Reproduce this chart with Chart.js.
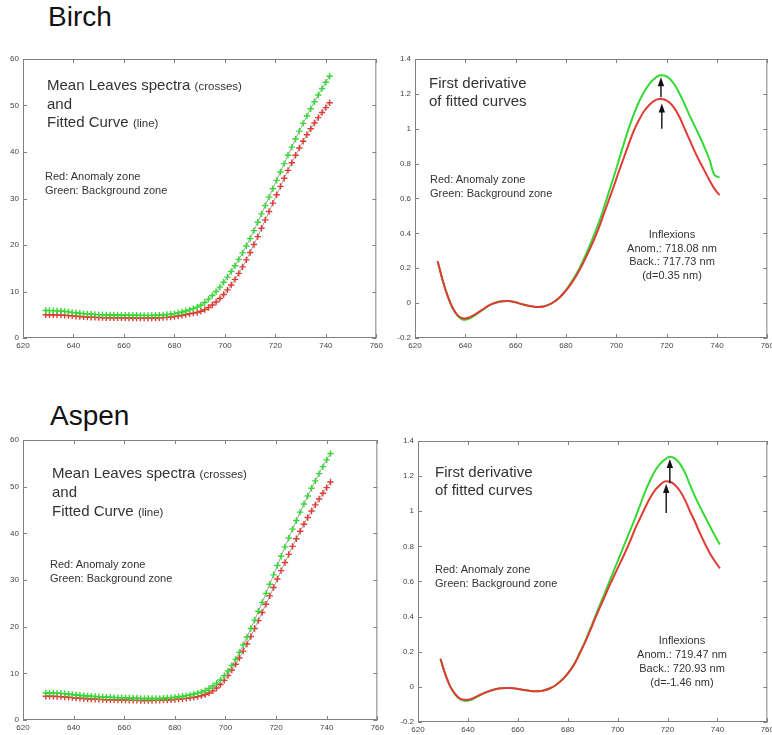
<!DOCTYPE html>
<html>
<head>
<meta charset="utf-8">
<script src="https://cdn.jsdelivr.net/npm/chart.js@4.4.0/dist/chart.umd.min.js"></script>
<style>
  body { margin: 0; width: 772px; height: 735px; overflow: hidden; background: #fff; position: relative;
         font-family: "Liberation Sans", Arial, sans-serif; color: #333; }
  canvas { position: absolute; }
  .note { position: absolute; white-space: nowrap; }
  .big { font-size: 15px; line-height: 18px; }
  .small { font-size: 11px; line-height: 14px; }
  .tiny { font-size: 11.5px; }
  .center { text-align: center; width: 150px; }
  .title { position: absolute; font-size: 28px; line-height: 32px; color: #111; }
</style>
</head>
<body>
<div class="title" style="left:48px; top:1px">Birch</div>
<div class="title" style="left:50px; top:400px">Aspen</div>

<canvas id="birchSpectra" width="386" height="308" style="left:0px; top:45px"></canvas>
<canvas id="birchDeriv" width="392" height="308" style="left:385px; top:45px"></canvas>
<canvas id="aspenSpectra" width="387" height="309" style="left:0px; top:426px"></canvas>
<canvas id="aspenDeriv" width="391" height="310" style="left:386px; top:427px"></canvas>

<!-- Birch notes -->
<div class="note big" style="left:47px; top:76px">Mean Leaves spectra <span class="tiny">(crosses)</span><br>and<br>Fitted Curve <span class="tiny">(line)</span></div>
<div class="note small" style="left:45px; top:169px">Red: Anomaly zone<br>Green: Background zone</div>
<div class="note big" style="left:429px; top:74px">First derivative<br>of fitted curves</div>
<div class="note small" style="left:430px; top:173px; line-height:13.5px">Red: Anomaly zone<br>Green: Background zone</div>
<div class="note small center" style="left:597px; top:228px; line-height:13.7px">Inflexions<br>Anom.: 718.08 nm<br>Back.: 717.73 nm<br>(d=0.35 nm)</div>

<!-- Aspen notes -->
<div class="note big" style="left:52px; top:464px; line-height:18.3px">Mean Leaves spectra <span class="tiny">(crosses)</span><br>and<br>Fitted Curve <span class="tiny">(line)</span></div>
<div class="note small" style="left:50px; top:557px; line-height:14.4px">Red: Anomaly zone<br>Green: Background zone</div>
<div class="note big" style="left:435px; top:463px; line-height:18.3px">First derivative<br>of fitted curves</div>
<div class="note small" style="left:435px; top:562px">Red: Anomaly zone<br>Green: Background zone</div>
<div class="note small center" style="left:607px; top:634px; line-height:13.9px">Inflexions<br>Anom.: 719.47 nm<br>Back.: 720.93 nm<br>(d=-1.46 nm)</div>

<script>
// Wavelengths (nm)
const spectraNm = [629, 630.5, 632, 633.5, 635, 636.5, 638, 639.5, 641, 642.5,
  644, 645.5, 647, 648.5, 650, 651.5, 653, 654.5, 656, 657.5,
  659, 660.5, 662, 663.5, 665, 666.5, 668, 669.5, 671, 672.5,
  674, 675.5, 677, 678.5, 680, 681.5, 683, 684.5, 686, 687.5,
  689, 690.5, 692, 693.5, 695, 696.5, 698, 699.5, 701, 702.5,
  704, 705.5, 707, 708.5, 710, 711.5, 713, 714.5, 716, 717.5,
  719, 720.5, 722, 723.5, 725, 726.5, 728, 729.5, 731, 732.5,
  734, 735.5, 737, 738.5, 740, 741.5];
const derivNm = [629, 631, 633, 635, 637, 639, 641, 643, 645, 647,
  649, 651, 653, 655, 657, 659, 661, 663, 665, 667,
  669, 671, 673, 675, 677, 679, 681, 683, 685, 687,
  689, 691, 693, 695, 697, 699, 701, 703, 705, 707,
  709, 711, 713, 715, 717, 719, 721, 723, 725, 727,
  729, 731, 733, 735, 737, 739, 741];

// Axis ticks
const wavelengthTicks = [620, 640, 660, 680, 700, 720, 740, 760];
const spectraTicks = [0, 10, 20, 30, 40, 50, 60];
const spectraTickLabels = ['0', '10', '20', '30', '40', '50', '60'];
const derivTicks = [-0.2, 0, 0.2, 0.4, 0.6, 0.8, 1, 1.2, 1.4];
const derivTickLabels = ['-0.2', '0', '0.2', '0.4', '0.6', '0.8', '1', '1.2', '1.4'];

// Birch mean spectra (crosses)
const birchBackgroundSpectrum = [5.9, 5.9, 5.88, 5.85, 5.8, 5.72, 5.62, 5.52, 5.42, 5.33,
  5.25, 5.18, 5.12, 5.07, 5.03, 5.0, 4.98, 4.96, 4.95, 4.94,
  4.93, 4.92, 4.9, 4.89, 4.88, 4.87, 4.86, 4.86, 4.87, 4.89,
  4.92, 4.97, 5.04, 5.13, 5.25, 5.4, 5.58, 5.8, 6.05, 6.32,
  6.64, 7.05, 7.65, 8.35, 9.15, 10.0, 10.95, 12.0, 13.1, 14.3,
  15.55, 16.9, 18.3, 19.8, 21.4, 23.1, 24.9, 26.7, 28.5, 30.3,
  32.1, 33.9, 35.7, 37.5, 39.3, 41.05, 42.8, 44.5, 46.15, 47.75,
  49.3, 50.8, 52.25, 53.65, 55.0, 56.3];
const birchAnomalySpectrum = [5.0, 5.0, 4.98, 4.96, 4.93, 4.88, 4.82, 4.75, 4.68, 4.62,
  4.56, 4.51, 4.47, 4.44, 4.41, 4.39, 4.37, 4.36, 4.35, 4.34,
  4.33, 4.32, 4.31, 4.3, 4.29, 4.28, 4.28, 4.28, 4.29, 4.31,
  4.34, 4.38, 4.44, 4.52, 4.62, 4.74, 4.88, 5.04, 5.2, 5.35,
  5.5, 5.75, 6.1, 6.55, 7.1, 7.75, 8.5, 9.35, 10.35, 11.4,
  12.6, 13.9, 15.3, 16.8, 18.4, 20.1, 21.8, 23.6, 25.4, 27.2,
  29.0, 30.8, 32.6, 34.35, 36.05, 37.7, 39.3, 40.85, 42.3, 43.7,
  45.0, 46.25, 47.4, 48.5, 49.55, 50.6];

// Aspen mean spectra (crosses)
const aspenBackgroundSpectrum = [5.8, 5.8, 5.78, 5.75, 5.7, 5.63, 5.55, 5.46, 5.37, 5.29,
  5.21, 5.14, 5.08, 5.02, 4.97, 4.93, 4.89, 4.86, 4.83, 4.8,
  4.77, 4.74, 4.71, 4.68, 4.65, 4.63, 4.61, 4.6, 4.6, 4.61,
  4.63, 4.67, 4.72, 4.79, 4.87, 4.97, 5.09, 5.23, 5.39, 5.57,
  5.75, 5.98, 6.3, 6.75, 7.3, 7.9, 8.6, 9.5, 10.5, 11.7,
  13.0, 14.5, 16.1, 17.8, 19.6, 21.4, 23.3, 25.2, 27.1, 29.1,
  31.1, 33.1, 35.1, 37.1, 39.0, 40.9, 42.75, 44.55, 46.3, 48.0,
  49.65, 51.25, 52.8, 54.3, 55.75, 57.1];
const aspenAnomalySpectrum = [5.1, 5.1, 5.08, 5.05, 5.0, 4.94, 4.87, 4.8, 4.73, 4.66,
  4.6, 4.54, 4.49, 4.45, 4.41, 4.38, 4.35, 4.33, 4.31, 4.29,
  4.27, 4.25, 4.23, 4.21, 4.2, 4.19, 4.18, 4.18, 4.19, 4.2,
  4.22, 4.25, 4.29, 4.34, 4.4, 4.47, 4.55, 4.64, 4.75, 4.88,
  5.0, 5.2, 5.45, 5.8, 6.25, 6.85, 7.6, 8.5, 9.55, 10.7,
  11.95, 13.3, 14.75, 16.3, 17.9, 19.6, 21.3, 23.05, 24.8, 26.6,
  28.4, 30.2, 32.0, 33.75, 35.5, 37.2, 38.85, 40.45, 41.95, 43.4,
  44.8, 46.1, 47.35, 48.6, 49.8, 51.0];

// First derivatives of fitted curves
const birchBackgroundDeriv = [0.24, 0.13, 0.04, -0.03, -0.075, -0.095, -0.092, -0.078, -0.058, -0.038,
  -0.018, -0.003, 0.006, 0.011, 0.012, 0.008, 0.0, -0.008, -0.015, -0.02,
  -0.022, -0.019, -0.01, 0.005, 0.027, 0.057, 0.095, 0.14, 0.19, 0.25,
  0.315, 0.385, 0.46, 0.545, 0.635, 0.725, 0.82, 0.915, 1.005, 1.085,
  1.155, 1.21, 1.255, 1.285, 1.305, 1.305, 1.29, 1.255, 1.205, 1.145,
  1.08, 1.02, 0.96, 0.895, 0.825, 0.735, 0.72];
const birchAnomalyDeriv = [0.24, 0.13, 0.04, -0.028, -0.07, -0.087, -0.085, -0.072, -0.054, -0.035,
  -0.016, -0.002, 0.007, 0.011, 0.012, 0.008, 0.0, -0.008, -0.015, -0.02,
  -0.022, -0.019, -0.01, 0.005, 0.026, 0.055, 0.09, 0.132, 0.18, 0.235,
  0.295, 0.36, 0.43, 0.51, 0.59, 0.67, 0.755, 0.835, 0.915, 0.99,
  1.05, 1.1, 1.135, 1.16, 1.17, 1.168, 1.152, 1.12, 1.07, 1.005,
  0.94, 0.875, 0.815, 0.76, 0.705, 0.655, 0.62];
const aspenBackgroundDeriv = [0.16, 0.07, 0.0, -0.045, -0.072, -0.08, -0.075, -0.062, -0.047, -0.033,
  -0.022, -0.013, -0.008, -0.006, -0.006, -0.009, -0.014, -0.019, -0.023, -0.025,
  -0.024, -0.018, -0.008, 0.008, 0.03, 0.058, 0.095, 0.14, 0.2, 0.26,
  0.33, 0.4, 0.47, 0.54, 0.61, 0.68, 0.75, 0.82, 0.89, 0.96,
  1.035, 1.11, 1.175, 1.23, 1.27, 1.295, 1.31, 1.3, 1.27, 1.22,
  1.15, 1.085, 1.025, 0.97, 0.915, 0.86, 0.81];
const aspenAnomalyDeriv = [0.16, 0.07, 0.0, -0.043, -0.068, -0.073, -0.07, -0.058, -0.045, -0.032,
  -0.022, -0.013, -0.008, -0.006, -0.006, -0.009, -0.014, -0.019, -0.023, -0.025,
  -0.024, -0.018, -0.008, 0.008, 0.03, 0.058, 0.094, 0.138, 0.195, 0.255,
  0.32, 0.39, 0.455, 0.52, 0.585, 0.645, 0.705, 0.765, 0.83, 0.9,
  0.96, 1.02, 1.075, 1.12, 1.15, 1.17, 1.168, 1.15, 1.115, 1.065,
  1.0, 0.94, 0.875, 0.815, 0.76, 0.715, 0.675];

// Inflexion arrows: wavelength, start value, tip value
const birchArrows = [{ x: 718.08, from: 1.0, to: 1.145 }, { x: 717.73, from: 1.18, to: 1.295 }];
const aspenArrows = [{ x: 719.47, from: 0.99, to: 1.155 }, { x: 720.93, from: 1.16, to: 1.298 }];

const GREEN = '#35d935';
const RED = '#e23a35';

Chart.defaults.font.family = '"Liberation Sans", Arial, sans-serif';

function toPoints(xs, ys) {
    return xs.map((x, i) => ({ x: x, y: ys[i] }));
}

// MATLAB-like frame with inward ticks on all four sides
const boxPlugin = {
    id: 'box',
    afterDraw(chart) {
        const { ctx, chartArea: a, scales: { x, y } } = chart;
        ctx.save();
        ctx.strokeStyle = '#808080';
        ctx.lineWidth = 1;
        ctx.strokeRect(a.left + 0.5, a.top + 0.5, a.width - 1, a.height - 1);
        ctx.beginPath();
        x.ticks.forEach(t => {
            const px = Math.round(x.getPixelForValue(t.value)) + 0.5;
            ctx.moveTo(px, a.bottom); ctx.lineTo(px, a.bottom - 4);
            ctx.moveTo(px, a.top); ctx.lineTo(px, a.top + 4);
        });
        y.ticks.forEach(t => {
            const py = Math.round(y.getPixelForValue(t.value)) + 0.5;
            ctx.moveTo(a.left, py); ctx.lineTo(a.left + 4, py);
            ctx.moveTo(a.right, py); ctx.lineTo(a.right - 4, py);
        });
        ctx.stroke();
        ctx.restore();
    }
};

// Arrows pointing at the derivative peaks
const arrowPlugin = {
    id: 'arrows',
    afterDatasetsDraw(chart, args, opts) {
        const { ctx, scales: { x, y } } = chart;
        (opts.list || []).forEach(a => {
            const px = x.getPixelForValue(a.x);
            const y0 = y.getPixelForValue(a.from);
            const y1 = y.getPixelForValue(a.to);
            ctx.save();
            ctx.strokeStyle = '#111';
            ctx.fillStyle = '#111';
            ctx.lineWidth = 1.4;
            ctx.beginPath();
            ctx.moveTo(px, y0); ctx.lineTo(px, y1 + 6);
            ctx.stroke();
            ctx.beginPath();
            ctx.moveTo(px, y1); ctx.lineTo(px - 3.2, y1 + 9); ctx.lineTo(px + 3.2, y1 + 9);
            ctx.closePath();
            ctx.fill();
            ctx.restore();
        });
    }
};

function spectrumSet(values, color) {
    return {
        data: toPoints(spectraNm, values),
        showLine: true,
        borderColor: 'rgba(90,90,90,0.75)',
        borderWidth: 0.8,
        tension: 0.3,
        pointStyle: 'cross',
        pointRadius: 3.2,
        pointBorderColor: color,
        pointBorderWidth: 1.4
    };
}

function derivSet(values, color) {
    return {
        data: toPoints(derivNm, values),
        showLine: true,
        borderColor: color,
        borderWidth: 2,
        tension: 0.4,
        pointRadius: 0
    };
}

function makePanel(id, yAxisWidth, yTicks, yLabels, datasets, arrows) {
    return new Chart(document.getElementById(id), {
        type: 'scatter',
        data: { datasets: datasets },
        options: {
            responsive: false,
            animation: false,
            devicePixelRatio: 1,
            layout: { padding: { top: 14, right: 9, left: 0, bottom: 0 } },
            plugins: {
                legend: { display: false },
                tooltip: { enabled: false },
                arrows: { list: arrows }
            },
            scales: {
                x: {
                    type: 'linear',
                    min: wavelengthTicks[0],
                    max: wavelengthTicks[wavelengthTicks.length - 1],
                    grid: { display: false, drawTicks: false },
                    border: { display: false },
                    afterBuildTicks: s => { s.ticks = wavelengthTicks.map(v => ({ value: v })); },
                    afterFit: s => { s.height = 15; },
                    ticks: { padding: 3, color: '#444', font: { size: 8 }, maxRotation: 0, autoSkip: false,
                             callback: (v, i) => String(wavelengthTicks[i]) }
                },
                y: {
                    type: 'linear',
                    min: yTicks[0],
                    max: yTicks[yTicks.length - 1],
                    grid: { display: false, drawTicks: false },
                    border: { display: false },
                    afterBuildTicks: s => { s.ticks = yTicks.map(v => ({ value: v })); },
                    afterFit: s => { s.width = yAxisWidth; },
                    ticks: { padding: 4, color: '#444', font: { size: 8 }, autoSkip: false,
                             callback: (v, i) => yLabels[i] }
                }
            }
        },
        plugins: [boxPlugin, arrowPlugin]
    });
}

makePanel('birchSpectra', 23, spectraTicks, spectraTickLabels,
    [spectrumSet(birchBackgroundSpectrum, GREEN), spectrumSet(birchAnomalySpectrum, RED)], []);
makePanel('birchDeriv', 30, derivTicks, derivTickLabels,
    [derivSet(birchAnomalyDeriv, RED), derivSet(birchBackgroundDeriv, GREEN)], birchArrows);
makePanel('aspenSpectra', 23, spectraTicks, spectraTickLabels,
    [spectrumSet(aspenBackgroundSpectrum, GREEN), spectrumSet(aspenAnomalySpectrum, RED)], []);
makePanel('aspenDeriv', 32, derivTicks, derivTickLabels,
    [derivSet(aspenAnomalyDeriv, RED), derivSet(aspenBackgroundDeriv, GREEN)], aspenArrows);
</script>
</body>
</html>
